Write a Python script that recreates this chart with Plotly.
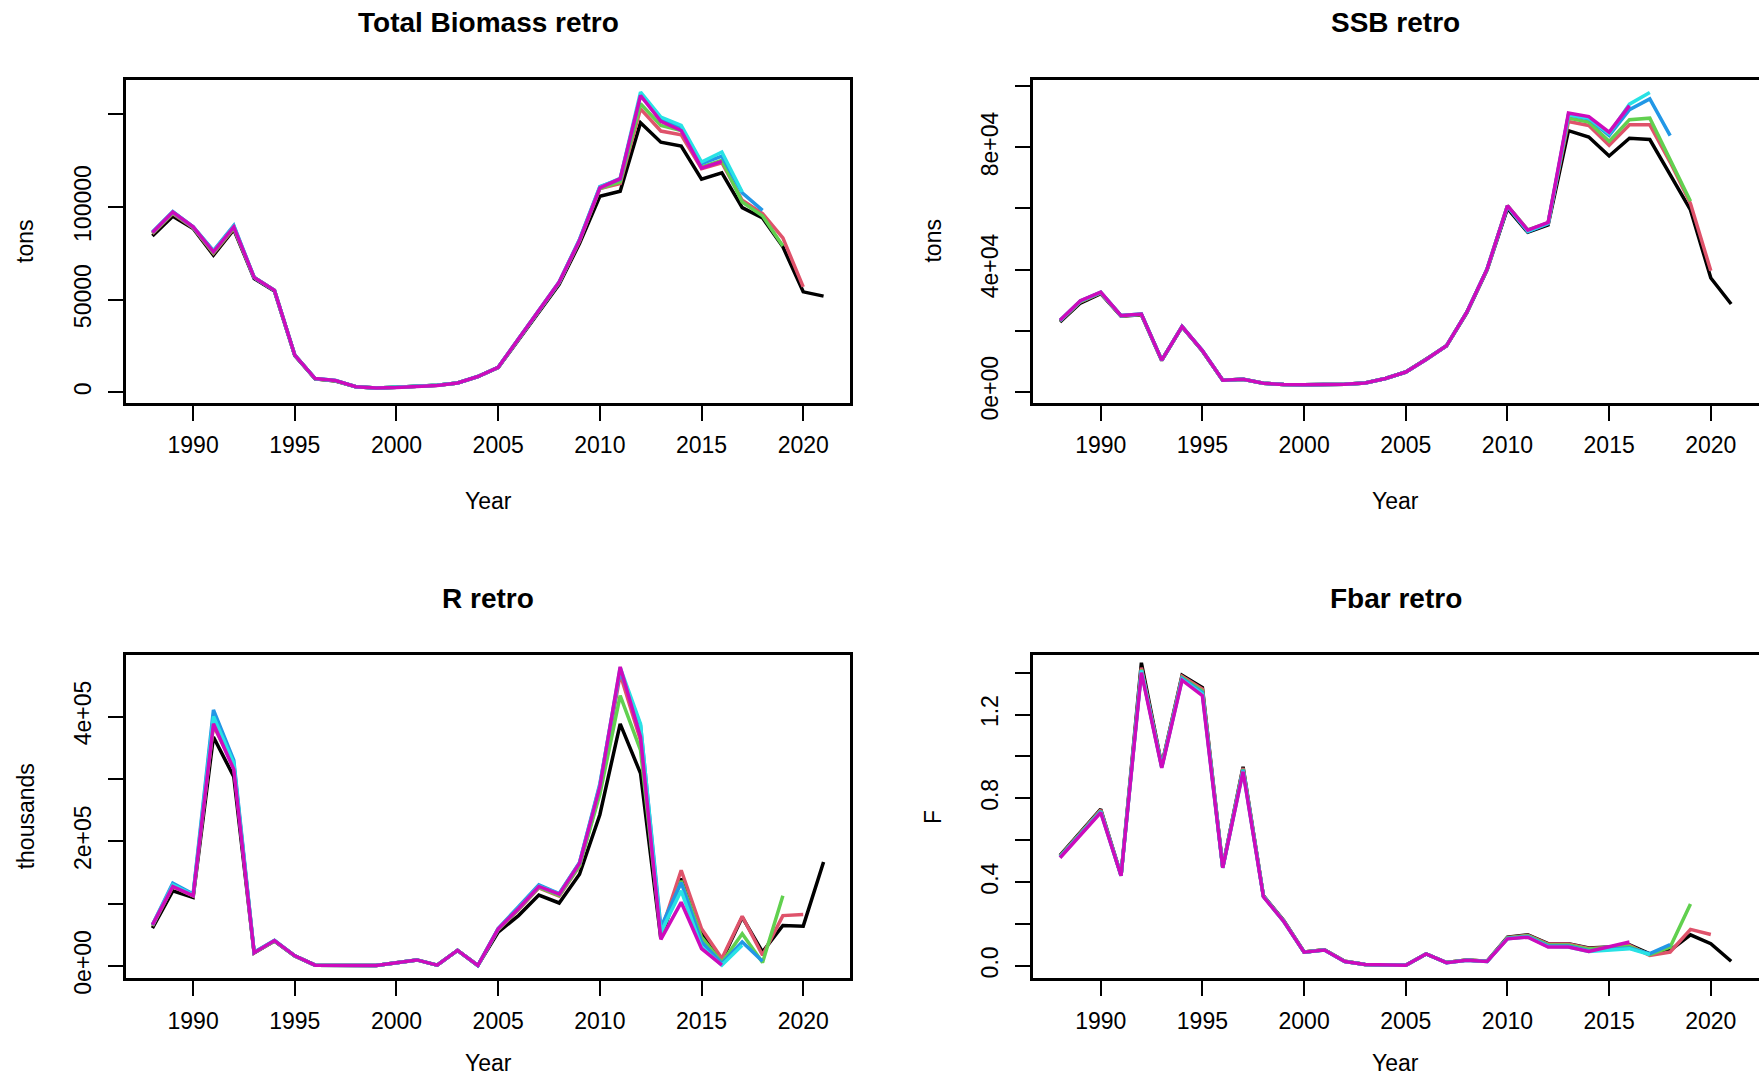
import plotly.graph_objects as go

W, H = 1759, 1092

years = list(range(1988, 2022))

# ---------------- Total biomass (tons) ----------------
tsb_base = [84400, 95000, 88400, 74000, 87800, 61400, 54600, 19800, 7200, 6100,
            3000, 2300, 2700, 3400, 3800, 5000, 8400, 13300, 28200, 43100,
            58200, 80300, 105800, 108500, 145500, 135000, 132900, 115000, 118400, 99700,
            94100, 78500, 54200, 51900]
tsb_peel1 = [85500, 96500, 88800, 75000, 88500, 62000, 55000, 20000, 7300, 6200,
             3000, 2300, 2700, 3400, 3800, 5000, 8400, 13400, 28500, 43600,
             59000, 81500, 109900, 112600, 153000, 141000, 139000, 120700, 123900, 103600,
             96400, 83300, 56900]
tsb_peel2 = [85800, 96800, 89000, 75300, 88800, 62000, 55000, 20000, 7300, 6200,
             3000, 2300, 2700, 3400, 3800, 5000, 8400, 13400, 28600, 43800,
             59200, 82000, 110000, 113500, 155700, 144000, 141300, 121600, 125200, 102700,
             95200, 79000]
tsb_peel3 = [86500, 97500, 89300, 76500, 90000, 62000, 55000, 20000, 7400, 6300,
             3000, 2300, 2700, 3400, 3800, 5000, 8500, 13500, 28800, 44000,
             59500, 82500, 111000, 115000, 160200, 147300, 143100, 123400, 127500, 107600,
             98200]
tsb_peel4 = [86300, 97300, 89300, 76200, 89600, 62000, 55000, 20000, 7400, 6300,
             3000, 2300, 2700, 3400, 3800, 5000, 8500, 13500, 28800, 44000,
             59500, 82300, 110800, 115500, 162000, 148500, 144000, 124300, 129700, 108100]
tsb_peel5 = [86200, 97300, 89300, 75800, 89300, 62000, 55000, 20000, 7400, 6300,
             3000, 2300, 2600, 3300, 3700, 5000, 8500, 13500, 28800, 44000,
             59500, 82000, 110300, 115300, 160200, 146200, 141300, 121000, 124600]

# ---------------- SSB (tons) ----------------
ssb_base = [22800, 29000, 32100, 24700, 25200, 10200, 21200, 13300, 3700, 4000,
            2700, 2300, 2200, 2200, 2400, 2800, 4300, 6400, 10500, 14900,
            25800, 39900, 60000, 52200, 54600, 85500, 83400, 77200, 83000, 82600,
            71100, 59500, 37200, 28700]
ssb_peel1 = [23100, 29400, 32300, 24800, 25300, 10300, 21300, 13300, 3700, 4000,
             2700, 2300, 2200, 2200, 2400, 2800, 4300, 6400, 10500, 15000,
             26000, 40100, 60800, 52800, 55200, 88500, 87200, 80700, 87400, 87400,
             75200, 61600, 39600]
ssb_peel2 = [23200, 29500, 32400, 24800, 25300, 10300, 21300, 13300, 3700, 4000,
             2700, 2300, 2200, 2200, 2400, 2800, 4300, 6400, 10500, 15000,
             26000, 40200, 60900, 53000, 55300, 89600, 88300, 82000, 89100, 89600,
             76300, 62400]
ssb_peel3 = [23300, 29700, 32500, 24900, 25400, 10300, 21300, 13400, 3700, 4000,
             2700, 2300, 2200, 2200, 2400, 2800, 4300, 6400, 10500, 15000,
             26000, 40200, 60700, 52400, 55000, 90700, 89400, 83900, 92400, 95900,
             83900]
ssb_peel4 = [23300, 29700, 32500, 24900, 25400, 10300, 21300, 13400, 3700, 4000,
             2700, 2300, 2200, 2200, 2400, 2800, 4300, 6400, 10500, 15000,
             26000, 40200, 60800, 52600, 55200, 90700, 89600, 84500, 94200, 98000]
ssb_peel5 = [23400, 29800, 32600, 24900, 25400, 10300, 21300, 13400, 3700, 4000,
             2700, 2300, 2200, 2200, 2400, 2800, 4300, 6400, 10500, 15000,
             26000, 40200, 60900, 52900, 55400, 91300, 90100, 85000, 93700]

# ---------------- Recruitment (thousands) ----------------
rec_base = [60500, 120400, 109800, 367100, 303400, 20700, 39800, 15900, 1000, 1000,
            1600, 500, 4800, 9500, 1000, 24900, 500, 54100, 80600, 113500,
            100800, 146900, 242400, 388300, 308700, 43500, 140100, 54100, 9000, 78000,
            22300, 64700, 63700, 166600]
rec_peel1 = [64000, 127000, 112000, 385700, 320000, 21000, 40000, 16000, 1000, 1000,
             1600, 500, 4800, 9500, 1000, 24900, 500, 58000, 90000, 125000,
             112000, 160000, 280000, 468000, 361800, 54100, 153300, 59400, 11700, 79600,
             17000, 80600, 82200]
rec_peel2 = [64500, 128000, 112500, 388000, 322000, 21000, 40000, 16000, 1000, 1000,
             1600, 500, 4800, 9500, 1000, 24900, 500, 58500, 91000, 126000,
             113000, 161000, 275000, 433400, 345900, 48800, 136300, 46200, 5300, 51500,
             5300, 112500]
rec_peel3 = [66000, 132600, 115000, 410600, 330000, 22000, 41000, 16000, 1000, 1000,
             1600, 500, 4800, 9500, 1000, 24900, 500, 60000, 95000, 130000,
             116000, 166000, 292000, 473200, 385700, 62100, 133700, 38200, 3700, 38200,
             7400]
rec_peel4 = [65500, 130000, 114000, 400000, 325000, 21500, 40500, 16000, 1000, 1000,
             1600, 500, 4800, 9500, 1000, 24900, 500, 59500, 93000, 128000,
             115500, 165000, 290000, 478500, 388300, 54100, 120400, 30200, 1000, 32900]
rec_peel5 = [65800, 127300, 112500, 388300, 315000, 21000, 40500, 16000, 1000, 1000,
             1600, 500, 4800, 9500, 1000, 24900, 500, 59400, 92000, 127300,
             115100, 164500, 287500, 479600, 367100, 42400, 101900, 27600, 1000]

# ---------------- Fbar ----------------
f_base = [0.527, 0.638, 0.748, 0.433, 1.447, 0.958, 1.388, 1.329, 0.472, 0.950,
          0.335, 0.216, 0.066, 0.077, 0.022, 0.006, 0.003, 0.003, 0.057, 0.016,
          0.028, 0.022, 0.137, 0.148, 0.106, 0.106, 0.085, 0.090, 0.101, 0.057,
          0.074, 0.148, 0.106, 0.022]
f_peel1 = [0.524, 0.634, 0.744, 0.432, 1.424, 0.955, 1.382, 1.322, 0.471, 0.945,
           0.334, 0.215, 0.066, 0.077, 0.022, 0.006, 0.003, 0.003, 0.057, 0.016,
           0.028, 0.022, 0.135, 0.146, 0.104, 0.104, 0.083, 0.088, 0.098, 0.050,
           0.066, 0.174, 0.150]
f_peel2 = [0.522, 0.632, 0.741, 0.431, 1.415, 0.951, 1.376, 1.312, 0.470, 0.940,
           0.333, 0.214, 0.066, 0.077, 0.022, 0.006, 0.003, 0.003, 0.057, 0.016,
           0.028, 0.022, 0.133, 0.144, 0.100, 0.100, 0.080, 0.085, 0.092, 0.054,
           0.090, 0.295]
f_peel3 = [0.520, 0.630, 0.738, 0.431, 1.410, 0.950, 1.372, 1.305, 0.469, 0.936,
           0.332, 0.213, 0.065, 0.076, 0.021, 0.006, 0.003, 0.003, 0.057, 0.015,
           0.027, 0.021, 0.131, 0.140, 0.095, 0.095, 0.072, 0.080, 0.085, 0.058,
           0.101]
f_peel4 = [0.518, 0.628, 0.735, 0.430, 1.410, 0.948, 1.368, 1.298, 0.468, 0.931,
           0.331, 0.212, 0.065, 0.076, 0.021, 0.006, 0.003, 0.003, 0.057, 0.015,
           0.027, 0.021, 0.130, 0.138, 0.092, 0.090, 0.069, 0.074, 0.082, 0.054]
f_peel5 = [0.516, 0.625, 0.732, 0.430, 1.400, 0.945, 1.364, 1.290, 0.468, 0.927,
           0.330, 0.212, 0.065, 0.076, 0.021, 0.006, 0.003, 0.003, 0.057, 0.015,
           0.027, 0.021, 0.129, 0.137, 0.090, 0.090, 0.069, 0.090, 0.114]

colors = ["#000000", "#DF536B", "#61D04F", "#2297E6", "#28E2E5", "#CD0BBC"]

panels = [
    ("Total Biomass retro", "tons",
     [tsb_base, tsb_peel1, tsb_peel2, tsb_peel3, tsb_peel4, tsb_peel5],
     [-5870, 168800], [0, 50000, 100000, 150000], ["0", "50000", "100000", ""]),
    ("SSB retro", "tons",
     [ssb_base, ssb_peel1, ssb_peel2, ssb_peel3, ssb_peel4, ssb_peel5],
     [-3785, 102250], [0, 20000, 40000, 60000, 80000, 100000],
     ["0e+00", "", "4e+04", "", "8e+04", ""]),
    ("R retro", "thousands",
     [rec_base, rec_peel1, rec_peel2, rec_peel3, rec_peel4, rec_peel5],
     [-20200, 498600], [0, 100000, 200000, 300000, 400000],
     ["0e+00", "", "2e+05", "", "4e+05"]),
    ("Fbar retro", "F",
     [f_base, f_peel1, f_peel2, f_peel3, f_peel4, f_peel5],
     [-0.060, 1.484], [0, 0.2, 0.4, 0.6, 0.8, 1.0, 1.2, 1.4],
     ["0.0", "", "0.4", "", "0.8", "", "1.2", ""]),
]

xticks = [1990, 1995, 2000, 2005, 2010, 2015, 2020]
xrange_ = [1986.68, 2022.32]

# frame positions in pixels (left, right, top, bottom)
frames = [
    (125.6, 850.4, 80.8, 409.5),
    (1033.2, 1759.0, 80.8, 409.5),
    (125.6, 850.4, 665.4, 993.9),
    (1033.2, 1759.0, 665.4, 993.9),
]
panel_w = 850.4 - 125.6
xrange_right = [1986.68, 1986.68 + (2022.32 - 1986.68) * (1759.0 - 1033.2) / panel_w]

FONT = "Liberation Sans, Arial, Helvetica, sans-serif"
fig = go.Figure()
annotations = []

for i, (title, ylab, series, yr, yt, ytt) in enumerate(panels):
    k = "" if i == 0 else str(i + 1)
    L, R, T, B = frames[i]
    right_col = i in (1, 3)
    bottom_row = i in (2, 3)
    for j, s in enumerate(series):
        fig.add_trace(go.Scatter(
            x=years[:len(s)], y=s, mode="lines",
            line=dict(color=colors[j], width=3.5),
            xaxis="x" + k, yaxis="y" + k, showlegend=False,
            hoverinfo="skip"))
    xdom = [L / W, min(R / W, 1.0)]
    ydom = [1 - B / H, 1 - T / H]
    fig.layout["xaxis" + k] = dict(
        domain=xdom, anchor="y" + k,
        range=(xrange_right if right_col else xrange_),
        tickmode="array", tickvals=xticks, ticktext=[str(v) for v in xticks],
        ticks="outside", ticklen=15, tickwidth=2, tickcolor="black",
        showline=True, linecolor="black", linewidth=2.5, mirror=True,
        showgrid=False, zeroline=False,
        tickfont=dict(family=FONT, size=23, color="black"),
        ticklabelstandoff=5,
    )
    fig.layout["yaxis" + k] = dict(
        domain=ydom, anchor="x" + k, range=yr,
        tickmode="array", tickvals=yt, ticktext=ytt,
        ticks="outside", ticklen=15, tickwidth=2, tickcolor="black",
        showline=True, linecolor="black", linewidth=2.5,
        mirror=(not right_col),
        showgrid=False, zeroline=False, tickangle=-90,
        tickfont=dict(family=FONT, size=23, color="black"),
        ticklabelstandoff=8,
    )
    cx = (L + (R if not right_col else L + panel_w)) / 2
    cy = (T + B) / 2
    annotations.append(dict(
        text="<b>" + title + "</b>", x=cx / W, y=1 - (T - 57.5) / H,
        xref="paper", yref="paper", xanchor="center", yanchor="middle",
        showarrow=False, font=dict(family=FONT, size=28, color="black")))
    if bottom_row:
        annotations.append(dict(
            text="Year", x=cx / W, y=-3.0 / H,
            xref="paper", yref="paper", xanchor="center", yanchor="bottom",
            showarrow=False, font=dict(family=FONT, size=23, color="black")))
    else:
        annotations.append(dict(
            text="Year", x=cx / W, y=1 - (B + 99.5) / H,
            xref="paper", yref="paper", xanchor="center", yanchor="middle",
            showarrow=False, font=dict(family=FONT, size=23, color="black")))
    annotations.append(dict(
        text=ylab, x=(L - 100) / W, y=1 - cy / H, textangle=-90,
        xref="paper", yref="paper", xanchor="center", yanchor="middle",
        showarrow=False, font=dict(family=FONT, size=23, color="black")))

fig.update_layout(
    width=W, height=H, autosize=False,
    margin=dict(l=0, r=0, t=0, b=0),
    paper_bgcolor="white", plot_bgcolor="white",
    annotations=annotations,
    showlegend=False,
)

fig.write_html("out.html",
               config={"responsive": False, "displayModeBar": False},
               post_script="document.body.style.margin='0';")
